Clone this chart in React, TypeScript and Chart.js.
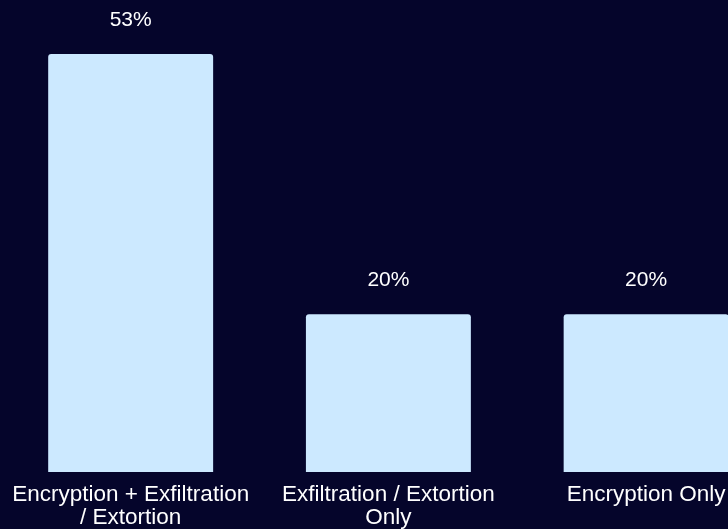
import React, { useEffect, useRef } from "react";
import { Chart, registerables } from "chart.js";

Chart.register(...registerables);

const categories: (string | string[])[] = [
  ["Encryption + Exfiltration", "/ Extortion"],
  ["Exfiltration / Extortion", "Only"],
  "Encryption Only",
];
const values = [53, 20, 20];
const valueLabels = ["53%", "20%", "20%"];

const BG = "#05052b";
const BAR = "#cce9ff";
const W = 776;
const H = 541;

export default function App() {
  const ref = useRef<HTMLCanvasElement>(null);
  useEffect(() => {
    document.body.style.margin = "0";
    document.body.style.background = BG;
    document.body.style.overflow = "hidden";
    const labelPlugin = {
      id: "valueLabels",
      beforeDraw(chart: any) {
        const { ctx, width, height } = chart;
        ctx.save();
        ctx.fillStyle = BG;
        ctx.fillRect(0, 0, width, height);
        ctx.restore();
      },
      afterDatasetsDraw(chart: any) {
        const { ctx } = chart;
        const meta = chart.getDatasetMeta(0);
        ctx.save();
        ctx.fillStyle = "#ffffff";
        ctx.font = "21px 'Liberation Sans', Arial, sans-serif";
        ctx.textAlign = "center";
        ctx.textBaseline = "alphabetic";
        meta.data.forEach((el: any, i: number) => {
          ctx.fillText(valueLabels[i], el.x, el.y - 28);
        });
        ctx.restore();
      },
    };
    const chart = new Chart(ref.current!, {
      type: "bar",
      data: {
        labels: categories,
        datasets: [
          {
            data: values,
            backgroundColor: BAR,
            borderRadius: { topLeft: 3, topRight: 3, bottomLeft: 0, bottomRight: 0 },
            borderSkipped: false,
            barPercentage: 0.8,
            categoryPercentage: 0.8,
          },
        ],
      },
      options: {
        animation: false,
        responsive: false,
        maintainAspectRatio: false,
        layout: { padding: { top: 54, left: 1, right: 1, bottom: 0 } },
        plugins: { legend: { display: false }, tooltip: { enabled: false } },
        scales: {
          x: {
            grid: { display: false, drawTicks: false, tickLength: 0 },
            border: { display: false },
            ticks: {
              color: "#ffffff",
              padding: 12,
              maxRotation: 0,
              autoSkip: false,
              font: { size: 22.5, family: "'Liberation Sans', Arial, sans-serif", lineHeight: 1 },
            },
          },
          y: {
            display: false,
            min: 0,
            max: 53,
          },
        },
      },
      plugins: [labelPlugin],
    });
    return () => chart.destroy();
  }, []);
  return (
    <div style={{ position: "absolute", left: 0, top: 0, width: W, height: H }}>
      <canvas ref={ref} width={W} height={H} />
    </div>
  );
}
